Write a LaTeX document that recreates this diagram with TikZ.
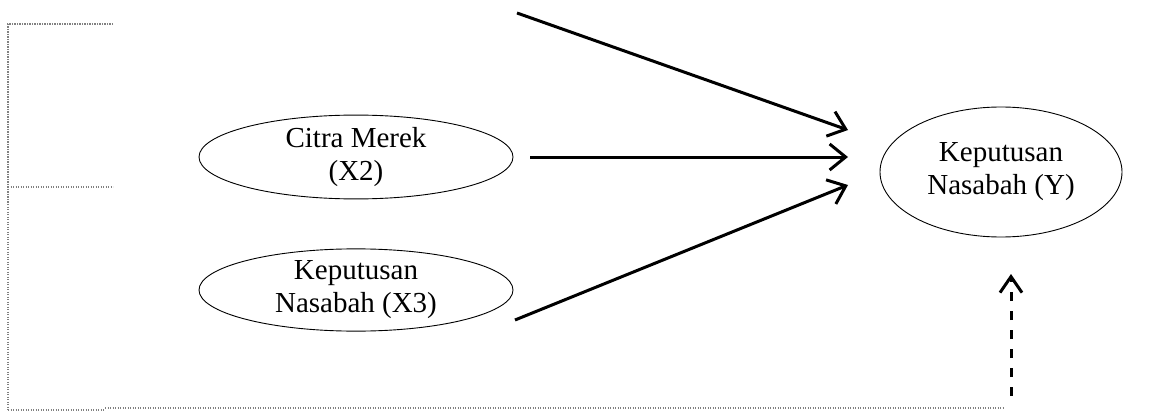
\documentclass[tikz,border=0pt]{standalone}
\usepackage{fontspec}
\setmainfont{Liberation Serif}
\usetikzlibrary{shapes.geometric,arrows.meta}
\begin{document}
\begin{tikzpicture}[x=1pt,y=-1pt,
  latent/.style={ellipse,draw,line width=0.9pt,inner sep=0pt,align=center,
    font=\fontsize{29}{33}\selectfont},
  patharrow/.style={line width=3pt,-{Straight Barb[length=16pt,width=26pt]}},
  dasharrow/.style={line width=3pt,dash pattern=on 9pt off 10pt,-{Straight Barb[length=16pt,width=22pt]}},
  bracket/.style={draw=gray,line width=1.4pt,dash pattern=on 1.3pt off 1.2pt}]
\useasboundingbox (0,0) rectangle (1154,412);
% latent variables
\node[latent,minimum width=314pt,minimum height=80pt] (x2) at (356,157) {Citra Merek\\(X2)};
\node[latent,minimum width=314pt,minimum height=80pt] (x3) at (356,290) {Keputusan\\Nasabah (X3)};
\node[latent,minimum width=242pt,minimum height=130pt] (y) at (1001,172) {Keputusan\\Nasabah (Y)};
% arrow end points
\coordinate (a1s) at (517,13);
\coordinate (a2s) at (530,157);
\coordinate (a3s) at (515,320);
\coordinate (a1e) at (848,130);
\coordinate (a2e) at (848,157);
\coordinate (a3e) at (848,185);
\draw[patharrow] (a1s) -- (a1e);
\draw[patharrow] (a2s) -- (a2e);
\draw[patharrow] (a3s) -- (a3e);
% dotted bracket
\coordinate (bt) at (113,24);
\coordinate (bm) at (113,187);
\coordinate (bl) at (8,24);
\coordinate (blm) at (8,187);
\coordinate (blb) at (8,411);
\coordinate (bb0) at (8,410);
\coordinate (bb1) at (105,410);
\coordinate (bb2) at (105,408);
\coordinate (bb3) at (1004,408);
\draw[bracket] (bt) -- (bl) -- (blb);
\draw[bracket] (blm) -- (bm);
\draw[bracket] (bb0) -- (bb1);
\draw[bracket] (bb2) -- (bb3);
% dashed arrow
\coordinate (ds) at (1011,396);
\coordinate (de) at (1011,274);
\draw[dasharrow] (ds) -- (de);
\end{tikzpicture}
\end{document}
